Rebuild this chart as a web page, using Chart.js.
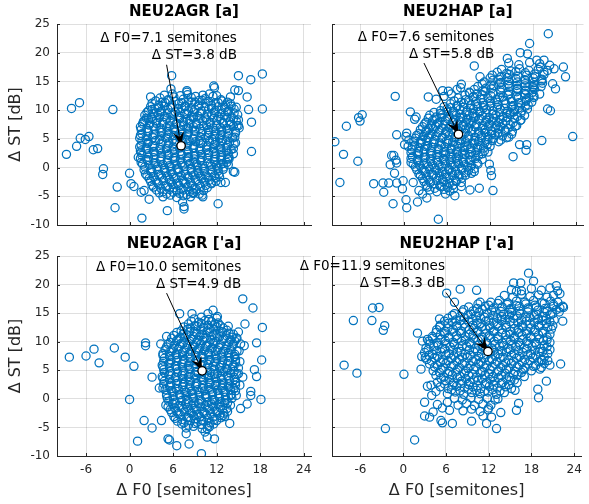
<!DOCTYPE html>
<html>
<head>
<meta charset="utf-8">
<script src="https://cdn.jsdelivr.net/npm/chart.js@4/dist/chart.umd.min.js"></script>
<style>
body { margin: 0; background: #fff; width: 589px; height: 504px; position: relative; overflow: hidden; }
canvas { position: absolute; }
</style>
</head>
<body>
<canvas id="bl" width="320" height="272" style="left:0;top:232px"></canvas>
<canvas id="tl" width="320" height="240" style="left:0;top:0"></canvas>
<canvas id="br" width="299" height="272" style="left:290px;top:232px"></canvas>
<canvas id="tr" width="299" height="240" style="left:290px;top:0"></canvas>
<script>
// axes
const xTicks = [-6, 0, 6, 12, 18, 24];
const yTicks = [-10, -5, 0, 5, 10, 15, 20, 25];

// mean of each panel
const tlMean = {x: 7.1, y: 3.8};
const trMean = {x: 7.6, y: 5.8};
const blMean = {x: 10.0, y: 4.9};
const brMean = {x: 11.9, y: 8.3};

// NEU2AGR [a]  (sparse points, then the dense core in two passes)
const tlOut = [[-8.7,2.3],[-8.0,10.3],[-6.9,11.3],[-7.3,3.7],[-6.8,5.1],[-6.1,4.9],[-5.6,5.4],[-5.0,3.1],[-4.4,3.3],[-3.6,-0.2],[-3.7,-1.2],[-2.3,10.1],[-1.7,-3.4],[-2.0,-7.0],[0.0,-1.0],[0.2,-2.8],[0.6,-3.3],[1.7,-8.8],[1.2,1.8],[1.6,-4.3],[2.0,-4.0],[2.7,-5.5],[2.9,12.3],[3.1,10.1],[2.1,8.2],[2.6,8.5],[5.7,13.7],[5.8,16.0],[5.2,-7.5],[7.5,-7.2],[7.3,-6.0],[7.9,13.1],[8.8,-4.5],[10.1,-5.1],[11.7,13.9],[12.2,-6.3],[13.2,-2.6],[14.5,-0.8],[14.3,2.4],[13.7,1.5],[15.0,7.3],[15.0,16.0],[16.7,15.3],[18.3,16.3],[16.2,12.3],[16.4,10.1],[18.3,10.2],[16.8,7.9],[16.8,2.8],[14.5,13.5],[15.0,13.4],[13.9,12.3],[12.6,0.6],[12.6,-2.6],[10.0,-4.8],[8.7,-4.4],[7.5,-6.8],[11.6,14.2],[7.9,13.4],[14.3,-0.7]];
const tlCore = [
[4.2,12.1],[5.3,11.8],[6.1,12.3],[7.4,11.9],[8.5,12.2],[9.6,11.7],[10.4,12.0],[11.5,12.4],[12.6,11.8],
[3.1,11.2],[4.0,10.8],[4.9,11.3],[5.8,10.9],[6.8,11.1],[7.7,10.7],[8.6,11.4],[9.5,10.9],[10.5,11.2],[11.3,10.8],[12.2,11.3],[13.2,10.9],[13.9,11.1],
[2.6,9.9],[3.5,10.2],[4.4,9.8],[5.3,10.1],[6.3,9.7],[7.2,10.3],[8.1,9.9],[9.0,10.1],[9.9,9.8],[10.9,10.2],[11.8,9.9],[12.7,10.1],[13.6,9.8],[14.4,10.2],
[2.1,9.1],[3.0,8.8],[3.9,9.2],[4.8,8.9],[5.7,9.1],[6.7,8.8],[7.6,9.3],[8.5,8.9],[9.4,9.0],[10.4,8.7],[11.3,9.2],[12.2,8.9],[13.1,9.1],[14.0,8.8],[14.9,9.2],
[1.9,8.0],[2.8,7.8],[3.7,8.2],[4.6,7.9],[5.6,8.1],[6.5,7.7],[7.4,8.0],[8.3,8.3],[9.2,7.8],[10.1,8.1],[11.1,7.9],[12.0,8.2],[12.9,7.8],[13.8,8.0],[14.7,8.1],
[1.5,7.1],[2.4,6.8],[3.3,7.2],[4.2,6.9],[5.1,7.0],[6.0,6.7],[7.0,7.2],[7.9,6.9],[8.8,7.1],[9.7,6.8],[10.6,7.3],[11.5,6.9],[12.5,7.0],[13.4,6.8],[14.3,7.2],[15.1,6.9],
[1.7,5.9],[2.6,6.2],[3.5,5.8],[4.4,6.1],[5.4,5.9],[6.3,6.2],[7.2,5.8],[8.1,6.0],[9.0,6.3],[9.9,5.9],[10.9,6.1],[11.8,5.8],[12.7,6.2],[13.6,5.9],[14.6,6.0],
[1.4,5.1],[2.3,4.8],[3.2,5.2],[4.1,4.9],[5.0,5.1],[5.9,4.8],[6.9,5.2],[7.8,4.9],[8.7,5.0],[9.6,4.7],[10.5,5.2],[11.4,4.9],[12.4,5.1],[13.3,4.8],[14.2,5.2],
[1.6,3.9],[2.5,4.2],[3.4,3.8],[4.3,4.1],[5.3,3.9],[6.2,4.2],[7.1,3.8],[8.0,4.1],[8.9,3.9],[9.8,4.2],[10.8,3.8],[11.7,4.0],[12.6,4.3],[13.5,3.9],[14.4,4.1],
[1.5,2.9],[2.4,3.2],[3.3,2.8],[4.2,3.1],[5.1,2.9],[6.1,3.2],[7.0,2.8],[7.9,3.0],[8.8,3.3],[9.7,2.9],[10.6,3.1],[11.6,2.8],[12.5,3.2],[13.4,2.9],[14.0,3.1],
[1.7,2.1],[2.6,1.8],[3.5,2.2],[4.4,1.9],[5.4,2.1],[6.3,1.8],[7.2,2.2],[8.1,1.9],[9.0,2.0],[10.0,1.7],[10.9,2.2],[11.8,1.9],[12.7,2.1],[13.7,1.8],
[1.6,0.9],[2.5,1.2],[3.4,0.8],[4.3,1.1],[5.2,0.9],[6.2,1.2],[7.1,0.8],[8.0,1.1],[8.9,0.9],[9.8,1.2],[10.8,0.8],[11.7,1.0],[12.6,1.3],[13.4,0.9],
[2.1,0.1],[3.0,-0.2],[3.9,0.2],[4.8,-0.1],[5.7,0.1],[6.7,-0.2],[7.6,0.2],[8.5,-0.1],[9.4,0.1],[10.3,-0.2],[11.3,0.2],[12.2,-0.1],[13.0,0.1],
[2.2,-1.1],[3.1,-0.8],[4.0,-1.2],[5.0,-0.9],[5.9,-1.1],[6.8,-0.8],[7.7,-1.2],[8.6,-0.9],[9.5,-1.0],[10.5,-1.3],[11.4,-0.9],[12.3,-1.1],
[2.7,-1.9],[3.6,-2.2],[4.5,-1.8],[5.5,-2.1],[6.4,-1.9],[7.3,-2.2],[8.2,-1.8],[9.1,-2.1],[10.0,-1.9],[11.0,-2.2],[11.9,-1.8],
[3.1,-3.1],[4.0,-2.8],[5.0,-3.2],[5.9,-2.9],[6.8,-3.1],[7.7,-2.8],[8.6,-3.2],[9.6,-2.9],[10.5,-3.1],[11.3,-2.8],
[3.7,-3.9],[4.6,-4.2],[5.5,-3.8],[6.5,-4.1],[7.4,-3.9],[8.3,-4.2],[9.2,-3.8],[10.2,-4.0],
[4.6,-5.1],[5.6,-4.8],[6.5,-5.2],[7.4,-4.9],[8.4,-5.1]];
const tlCore2 = [
[4.8,12.6],[5.9,12.8],[7.0,12.5],[8.0,12.7],[9.1,12.4],[10.1,12.6],[11.0,12.8],[12.0,12.5],
[3.6,11.6],[4.5,11.4],[5.4,11.7],[6.3,11.5],[7.2,11.3],[8.1,11.6],[9.0,11.4],[10.0,11.7],[10.9,11.5],[11.8,11.3],[12.7,11.6],[13.5,11.4],
[2.9,10.6],[3.9,10.4],[4.8,10.7],[5.7,10.5],[6.7,10.3],[7.6,10.6],[8.5,10.4],[9.5,10.7],[10.4,10.5],[11.3,10.3],[12.2,10.6],[13.1,10.4],[14.0,10.7],[14.7,10.5],
[2.4,9.6],[3.3,9.4],[4.2,9.7],[5.2,9.5],[6.1,9.3],[7.0,9.6],[7.9,9.4],[8.9,9.7],[9.8,9.5],[10.7,9.3],[11.7,9.6],[12.6,9.4],[13.5,9.7],[14.4,9.5],
[2.3,8.6],[3.2,8.4],[4.1,8.7],[5.1,8.5],[6.0,8.3],[6.9,8.6],[7.9,8.4],[8.8,8.7],[9.7,8.5],[10.6,8.3],[11.6,8.6],[12.5,8.4],[13.4,8.7],[14.3,8.5],[15.0,8.3],
[1.8,7.6],[2.7,7.4],[3.7,7.7],[4.6,7.5],[5.5,7.3],[6.4,7.6],[7.4,7.4],[8.3,7.7],[9.2,7.5],[10.2,7.3],[11.1,7.6],[12.0,7.4],[12.9,7.7],[13.9,7.5],[14.8,7.3],
[1.6,6.6],[2.5,6.4],[3.5,6.7],[4.4,6.5],[5.3,6.3],[6.2,6.6],[7.2,6.4],[8.1,6.7],[9.0,6.5],[10.0,6.3],[10.9,6.6],[11.8,6.4],[12.7,6.7],[13.7,6.5],[14.6,6.3],
[1.5,5.6],[2.4,5.4],[3.3,5.7],[4.3,5.5],[5.2,5.3],[6.1,5.6],[7.0,5.4],[8.0,5.7],[8.9,5.5],[9.8,5.3],[10.8,5.6],[11.7,5.4],[12.6,5.7],[13.5,5.5],[14.5,5.3],
[1.7,4.6],[2.6,4.4],[3.6,4.7],[4.5,4.5],[5.4,4.3],[6.4,4.6],[7.3,4.4],[8.2,4.7],[9.1,4.5],[10.1,4.3],[11.0,4.6],[11.9,4.4],[12.8,4.7],[13.8,4.5],[14.6,4.3],
[1.4,3.6],[2.3,3.4],[3.2,3.7],[4.2,3.5],[5.1,3.3],[6.0,3.6],[6.9,3.4],[7.9,3.7],[8.8,3.5],[9.7,3.3],[10.6,3.6],[11.6,3.4],[12.5,3.7],[13.4,3.5],[14.3,3.3],
[1.6,2.6],[2.5,2.4],[3.4,2.7],[4.4,2.5],[5.3,2.3],[6.2,2.6],[7.1,2.4],[8.1,2.7],[9.0,2.5],[9.9,2.3],[10.9,2.6],[11.8,2.4],[12.7,2.7],[13.6,2.5],
[1.5,1.6],[2.4,1.4],[3.3,1.7],[4.3,1.5],[5.2,1.3],[6.1,1.6],[7.0,1.4],[8.0,1.7],[8.9,1.5],[9.8,1.3],[10.7,1.6],[11.7,1.4],[12.6,1.7],[13.5,1.5],
[1.8,0.6],[2.7,0.4],[3.6,0.7],[4.6,0.5],[5.5,0.3],[6.4,0.6],[7.3,0.4],[8.3,0.7],[9.2,0.5],[10.1,0.3],[11.1,0.6],[12.0,0.4],[12.9,0.7],[13.6,0.5],
[2.0,-0.4],[2.9,-0.6],[3.8,-0.3],[4.8,-0.5],[5.7,-0.7],[6.6,-0.4],[7.5,-0.6],[8.5,-0.3],[9.4,-0.5],[10.3,-0.7],[11.2,-0.4],[12.2,-0.6],[12.9,-0.3],
[2.4,-1.4],[3.3,-1.6],[4.3,-1.3],[5.2,-1.5],[6.1,-1.7],[7.1,-1.4],[8.0,-1.6],[8.9,-1.3],[9.8,-1.5],[10.8,-1.7],[11.7,-1.4],[12.4,-1.6],
[2.9,-2.4],[3.8,-2.6],[4.7,-2.3],[5.7,-2.5],[6.6,-2.7],[7.5,-2.4],[8.4,-2.6],[9.4,-2.3],[10.3,-2.5],[11.2,-2.7],[11.9,-2.4],
[3.3,-3.4],[4.3,-3.6],[5.2,-3.3],[6.1,-3.5],[7.1,-3.7],[8.0,-3.4],[8.9,-3.6],[9.8,-3.3],[10.7,-3.5],
[4.1,-4.4],[5.1,-4.6],[6.0,-4.3],[6.9,-4.5],[7.9,-4.7],[8.8,-4.4],[9.6,-4.6]];

// NEU2HAP [a]
const trOut = [[-9.6,4.5],[-8.9,-2.6],[-8.4,2.3],[-8.0,7.2],[-6.4,1.1],[-6.1,8.1],[-6.3,8.7],[-5.8,9.2],[-4.2,-2.8],[-2.9,-2.7],[-2.8,-4.3],[-2.1,-2.7],[-1.5,-6.3],[-1.2,12.4],[-1.0,-2.7],[-1.7,2.1],[-1.4,2.1],[-1.1,1.3],[-1.9,0.5],[-1.0,0.8],[-1.3,-1.0],[-1.0,5.7],[-0.1,-2.3],[-0.2,-3.7],[0.3,-5.6],[0.4,-7.0],[0.1,4.0],[0.3,5.4],[0.6,3.7],[0.9,9.7],[1.7,8.8],[1.3,-2.6],[1.9,-6.0],[2.1,-4.0],[4.8,-9.0],[5.4,13.4],[3.4,12.3],[5.8,-4.6],[7.1,-4.9],[8.0,-3.3],[9.2,-3.9],[10.5,-3.6],[12.4,-4.0],[12.1,-0.5],[12.2,-1.4],[11.9,0.6],[9.8,17.7],[8.0,14.5],[7.9,13.9],[9.2,13.0],[10.6,15.8],[14.4,19.0],[16.2,20.0],[17.2,19.8],[17.5,21.6],[20.1,23.3],[18.5,18.7],[19.5,18.7],[19.0,17.5],[20.3,17.8],[20.9,17.2],[22.2,17.5],[22.5,15.8],[20.7,14.6],[21.1,13.7],[20.4,9.9],[20.0,10.2],[23.5,5.4],[19.2,4.7],[17.0,3.0],[17.1,4.0],[16.1,4.0],[15.2,1.9],[14.8,9.5],[15.8,13.7],[16.9,13.5],[18.0,14.1],[17.4,12.2],[0.4,6.0],[0.7,4.8],[1.5,8.4],[2.6,-4.6],[3.2,-5.3]];
const trCore = [
[6.2,13.3],[7.4,13.6],[4.5,11.9],[5.6,12.4],[6.6,12.8],
[6.5,11.1],[7.4,10.8],[8.3,11.2],[9.3,10.9],[10.2,11.1],[11.1,10.8],[12.1,11.2],[13.1,10.9],[14.2,11.1],[15.2,10.8],[16.3,11.2],[17.3,10.9],
[5.1,9.9],[6.0,10.2],[6.9,9.8],[7.8,10.1],[8.8,9.9],[9.7,10.2],[10.6,9.8],[11.5,10.1],[12.4,9.9],[13.4,10.2],[14.4,9.8],[15.4,10.1],[16.4,9.9],[17.2,10.2],
[3.6,9.1],[4.5,8.8],[5.4,9.2],[6.3,8.9],[7.3,9.1],[8.2,8.8],[9.1,9.2],[10.0,8.9],[10.9,9.0],[11.9,8.7],[12.8,9.1],[13.8,8.8],[14.8,9.2],[15.8,8.9],[16.8,9.1],
[3.1,7.9],[4.0,8.2],[4.9,7.8],[5.8,8.1],[6.8,7.9],[7.7,8.2],[8.6,7.8],[9.5,8.0],[10.4,8.3],[11.4,7.9],[12.3,8.1],[13.2,7.8],[14.2,8.1],[15.2,7.8],[16.2,8.2],
[2.6,7.1],[3.5,6.8],[4.4,7.2],[5.3,6.9],[6.3,7.0],[7.2,6.7],[8.1,7.2],[9.0,6.9],[9.9,7.1],[10.9,6.8],[11.8,7.2],[12.7,6.9],[13.5,7.1],[14.5,6.8],[15.5,7.2],
[2.1,5.9],[3.0,6.2],[3.9,5.8],[4.8,6.1],[5.8,5.9],[6.7,6.2],[7.6,5.8],[8.5,6.0],[9.4,6.3],[10.4,5.9],[11.3,6.1],[12.2,5.8],[13.1,6.0],[14.1,6.2],[15.0,5.8],
[1.6,5.1],[2.5,4.8],[3.4,5.2],[4.3,4.9],[5.3,5.1],[6.2,4.8],[7.1,5.2],[8.0,4.9],[8.9,5.0],[9.9,4.7],[10.8,5.2],[11.7,4.9],[12.5,5.1],[13.5,4.8],[14.3,5.2],
[1.5,3.9],[2.4,4.2],[3.3,3.8],[4.2,4.1],[5.2,3.9],[6.1,4.2],[7.0,3.8],[7.9,4.1],[8.8,3.9],[9.8,4.2],[10.7,3.8],[11.6,4.0],
[1.1,3.1],[2.0,2.8],[2.9,3.2],[3.8,2.9],[4.8,3.1],[5.7,2.8],[6.6,3.2],[7.5,2.9],[8.4,3.0],[9.4,2.7],[10.3,3.2],[11.2,2.9],
[1.2,1.9],[2.1,2.2],[3.0,1.8],[3.9,2.1],[4.9,1.9],[5.8,2.2],[6.7,1.8],[7.6,2.0],[8.5,2.3],[9.5,1.9],[10.4,2.1],
[1.0,0.9],[1.9,1.2],[2.8,0.8],[3.7,1.1],[4.7,0.9],[5.6,1.2],[6.5,0.8],[7.4,1.1],[8.3,0.9],[9.3,1.2],[10.2,0.8],
[1.6,0.1],[2.5,-0.2],[3.4,0.2],[4.3,-0.1],[5.3,0.1],[6.2,-0.2],[7.1,0.2],[8.0,-0.1],[8.9,0.1],[9.8,-0.2],
[2.1,-1.1],[3.0,-0.8],[3.9,-1.2],[4.9,-0.9],[5.8,-1.1],[6.7,-0.8],[7.6,-1.2],[8.5,-0.9],[9.4,-1.0],
[2.6,-1.9],[3.5,-2.2],[4.5,-1.8],[5.4,-2.1],[6.3,-1.9],[7.2,-2.2],[8.1,-1.8],
[3.1,-3.1],[4.1,-2.8],[5.0,-3.2],[5.9,-2.9],[6.8,-3.1],
[3.6,-3.9],[4.6,-4.2],[5.6,-3.8],[6.4,-4.1],
[7.6,12.1],[8.6,11.8],[9.6,12.2],[10.7,11.9],[11.7,12.1],[12.8,11.8],[13.8,12.3],[14.9,11.9],[15.9,12.1],[17.0,11.8],[18.1,12.2],
[9.1,13.1],[10.2,12.8],[11.3,13.2],[12.4,12.9],[13.5,13.1],[14.6,12.8],[15.7,13.2],[16.8,12.9],[17.9,13.1],[18.9,12.8],
[10.3,14.1],[11.4,13.8],[12.5,14.2],[13.6,13.9],[14.7,14.1],[15.8,13.8],[16.9,14.2],[18.0,13.9],[19.1,14.1],
[11.2,14.9],[12.4,15.2],[13.5,14.8],[14.6,15.1],[15.8,14.9],[16.9,15.2],[18.1,14.8],[19.2,15.1],
[12.3,16.1],[13.5,15.8],[14.7,16.2],[15.9,15.9],[17.1,16.1],[18.3,15.8],[19.5,16.2],
[13.6,17.1],[14.9,16.8],[16.1,17.2],[17.4,16.9],[18.7,17.1],[20.0,16.9],
[14.6,18.2],[16.0,17.9],[17.5,18.3],[18.9,18.1]];
const trCore2 = [
[7.0,11.6],[8.0,11.4],[9.0,11.7],[10.0,11.5],[11.0,11.3],[12.0,11.6],[13.0,11.4],[14.0,11.7],[15.0,11.5],[16.0,11.3],[17.0,11.6],[17.8,11.4],
[8.5,12.6],[9.7,12.4],[10.9,12.7],[12.1,12.5],[13.3,12.3],[14.5,12.6],[15.7,12.4],[16.9,12.7],[18.1,12.5],
[9.8,13.6],[11.0,13.4],[12.2,13.7],[13.4,13.5],[14.6,13.3],[15.8,13.6],[17.0,13.4],[18.2,13.7],
[10.9,14.6],[12.1,14.4],[13.3,14.7],[14.5,14.5],[15.7,14.3],[16.9,14.6],[18.1,14.4],[19.3,14.7],
[12.0,15.6],[13.2,15.4],[14.4,15.7],[15.6,15.5],[16.8,15.3],[18.0,15.6],[19.2,15.4],
[13.0,16.6],[14.3,16.4],[15.6,16.7],[16.9,16.5],[18.2,16.3],[19.5,16.6],
[5.6,10.6],[6.5,10.4],[7.4,10.7],[8.3,10.5],[9.3,10.3],[10.2,10.6],[11.1,10.4],[12.0,10.7],[13.0,10.5],[14.0,10.3],[15.0,10.6],[16.0,10.4],[16.9,10.7],
[4.2,9.6],[5.1,9.4],[6.0,9.7],[6.9,9.5],[7.8,9.3],[8.7,9.6],[9.6,9.4],[10.5,9.7],[11.4,9.5],[12.4,9.3],[13.3,9.6],[14.3,9.4],[15.3,9.7],[16.3,9.5],
[3.4,8.6],[4.3,8.4],[5.2,8.7],[6.1,8.5],[7.0,8.3],[7.9,8.6],[8.8,8.4],[9.7,8.7],[10.6,8.5],[11.5,8.3],[12.5,8.6],[13.4,8.4],[14.4,8.7],[15.4,8.5],[16.3,8.3],
[2.9,7.6],[3.8,7.4],[4.7,7.7],[5.6,7.5],[6.5,7.3],[7.4,7.6],[8.3,7.4],[9.2,7.7],[10.1,7.5],[11.0,7.3],[11.9,7.6],[12.9,7.4],[13.8,7.7],[14.8,7.5],[15.7,7.3],
[2.3,6.6],[3.2,6.4],[4.1,6.7],[5.0,6.5],[5.9,6.3],[6.8,6.6],[7.7,6.4],[8.6,6.7],[9.5,6.5],[10.4,6.3],[11.3,6.6],[12.2,6.4],[13.2,6.7],[14.1,6.5],[15.1,6.3],
[1.8,5.6],[2.7,5.4],[3.6,5.7],[4.5,5.5],[5.4,5.3],[6.3,5.6],[7.2,5.4],[8.1,5.7],[9.0,5.5],[9.9,5.3],[10.8,5.6],[11.7,5.4],[12.7,5.7],[13.7,5.5],[14.6,5.3],
[1.4,4.6],[2.3,4.4],[3.2,4.7],[4.1,4.5],[5.0,4.3],[5.9,4.6],[6.8,4.4],[7.7,4.7],[8.6,4.5],[9.5,4.3],[10.4,4.6],[11.3,4.4],[12.3,4.7],[13.2,4.5],
[1.2,3.6],[2.1,3.4],[3.0,3.7],[3.9,3.5],[4.8,3.3],[5.7,3.6],[6.6,3.4],[7.5,3.7],[8.4,3.5],[9.3,3.3],[10.2,3.6],[11.1,3.4],[12.0,3.7],
[1.0,2.6],[1.9,2.4],[2.8,2.7],[3.7,2.5],[4.6,2.3],[5.5,2.6],[6.4,2.4],[7.3,2.7],[8.2,2.5],[9.1,2.3],[10.0,2.6],[10.9,2.4],[11.7,2.7],
[1.0,1.6],[1.9,1.4],[2.8,1.7],[3.7,1.5],[4.6,1.3],[5.5,1.6],[6.4,1.4],[7.3,1.7],[8.2,1.5],[9.1,1.3],[10.0,1.6],[10.9,1.4],
[1.3,0.6],[2.2,0.4],[3.1,0.7],[4.0,0.5],[4.9,0.3],[5.8,0.6],[6.7,0.4],[7.6,0.7],[8.5,0.5],[9.4,0.3],[10.3,0.6],
[1.8,-0.4],[2.7,-0.6],[3.6,-0.3],[4.5,-0.5],[5.4,-0.7],[6.3,-0.4],[7.2,-0.6],[8.1,-0.3],[9.0,-0.5],[9.8,-0.7],
[2.3,-1.4],[3.2,-1.6],[4.1,-1.3],[5.0,-1.5],[5.9,-1.7],[6.8,-1.4],[7.7,-1.6],[8.6,-1.3],
[2.8,-2.4],[3.7,-2.6],[4.6,-2.3],[5.5,-2.5],[6.4,-2.7],[7.3,-2.4],[8.0,-2.6],
[3.3,-3.4],[4.3,-3.6],[5.2,-3.3],[6.1,-3.5],[6.9,-3.7]];

// NEU2AGR ['a]
const blOut = [[-8.3,7.3],[-6.0,7.5],[-4.9,8.7],[-4.2,6.3],[-2.1,8.9],[-0.6,7.3],[0.6,5.7],[0.0,-0.1],[1.1,-7.4],[2.0,-3.8],[2.2,9.8],[2.2,9.3],[3.1,-5.1],[3.1,3.8],[4.3,9.6],[4.4,-3.8],[5.1,10.9],[5.5,-7.2],[6.5,-8.2],[6.9,14.9],[8.6,14.9],[8.2,-7.9],[9.9,-9.6],[10.7,-6.7],[11.7,-7.0],[10.8,14.9],[11.5,15.5],[12.1,14.4],[15.6,17.5],[17.0,15.9],[15.9,13.1],[18.3,12.5],[15.0,11.7],[17.5,9.8],[18.2,6.8],[17.2,5.1],[17.5,3.9],[15.6,3.8],[16.7,1.3],[16.7,0.6],[18.1,-0.1],[16.2,-0.9],[15.3,-1.7],[14.7,0.6],[13.8,-4.3],[12.9,-2.9],[15.8,9.3],[15.3,9.6],[10.4,-5.8],[10.7,-5.2],[7.8,-6.1],[5.3,-7.0],[4.1,1.9]];
const blCore = [
[8.9,14.0],[9.9,14.3],[10.9,13.9],[12.0,14.1],
[8.1,13.1],[9.0,12.8],[9.9,13.2],[10.8,12.9],[11.7,13.1],[12.5,12.8],
[7.1,11.9],[8.0,12.2],[8.9,11.8],[9.8,12.1],[10.7,11.9],[11.6,12.2],[12.5,11.8],[13.4,12.0],
[6.1,11.1],[7.0,10.8],[7.9,11.2],[8.8,10.9],[9.7,11.0],[10.6,10.7],[11.5,11.2],[12.4,10.9],[13.3,11.1],[14.1,10.8],
[5.6,9.9],[6.5,10.2],[7.4,9.8],[8.3,10.1],[9.2,9.9],[10.1,10.2],[11.0,9.8],[11.9,10.0],[12.8,10.3],[13.7,9.9],[14.5,10.1],[14.8,10.6],
[5.1,9.1],[6.0,8.8],[6.9,9.2],[7.8,8.9],[8.7,9.1],[9.6,8.8],[10.5,9.2],[11.4,8.9],[12.3,9.0],[13.2,8.7],[14.1,9.2],
[4.6,7.9],[5.5,8.2],[6.4,7.8],[7.3,8.1],[8.2,7.9],[9.1,8.2],[10.0,7.8],[10.9,8.0],[11.8,8.3],[12.7,7.9],[13.6,8.1],[14.5,7.8],[15.1,8.4],
[4.8,7.1],[5.7,6.8],[6.6,7.2],[7.5,6.9],[8.4,7.0],[9.3,6.7],[10.2,7.2],[11.1,6.9],[12.0,7.1],[12.9,6.8],[13.8,7.2],[14.6,6.9],
[4.5,5.9],[5.4,6.2],[6.3,5.8],[7.2,6.1],[8.1,5.9],[9.0,6.2],[9.9,5.8],[10.8,6.0],[11.7,6.3],[12.6,5.9],[13.5,6.1],[14.4,5.8],[15.2,6.5],
[4.7,5.1],[5.6,4.8],[6.5,5.2],[7.4,4.9],[8.3,5.1],[9.2,4.8],[10.8,4.9],[11.7,5.2],[12.6,4.9],[13.5,5.1],[14.4,4.8],
[4.5,3.9],[5.4,4.2],[6.3,3.8],[7.2,4.1],[8.1,3.9],[9.0,4.2],[9.9,3.8],[10.8,4.0],[11.7,4.3],[12.6,3.9],[13.5,4.1],[14.4,3.8],[15.0,4.4],
[4.8,3.1],[5.7,2.8],[6.6,3.2],[7.5,2.9],[8.4,3.0],[9.3,2.7],[10.2,3.2],[11.1,2.9],[12.0,3.1],[12.9,2.8],[13.8,3.2],[14.6,2.9],
[4.6,1.9],[5.5,2.2],[6.4,1.8],[7.3,2.1],[8.2,1.9],[9.1,2.2],[10.0,1.8],[10.9,2.0],[11.8,2.3],[12.7,1.9],[13.6,2.1],[14.4,1.8],[15.2,2.4],
[5.1,0.9],[6.0,1.2],[6.9,0.8],[7.8,1.1],[8.7,0.9],[9.6,1.2],[10.5,0.8],[11.4,1.1],[12.3,0.9],[13.2,1.2],[14.0,0.8],
[5.2,0.1],[6.1,-0.2],[7.0,0.2],[7.9,-0.1],[8.8,0.1],[9.7,-0.2],[10.6,0.2],[11.5,-0.1],[12.4,0.1],[13.3,-0.2],[14.1,0.1],
[5.0,-1.1],[5.9,-0.8],[6.8,-1.2],[7.7,-0.9],[8.6,-1.1],[9.5,-0.8],[10.4,-1.2],[11.3,-0.9],[12.2,-1.0],[13.1,-0.7],[13.9,-1.1],
[5.6,-1.9],[6.5,-2.2],[7.4,-1.8],[8.3,-2.1],[9.2,-1.9],[10.1,-2.2],[11.0,-1.8],[11.9,-2.1],[12.8,-1.9],[13.5,-2.2],
[6.1,-3.1],[7.0,-2.8],[7.9,-3.2],[8.8,-2.9],[9.7,-3.1],[10.6,-2.8],[11.5,-3.2],[12.4,-2.9],[13.1,-3.1],
[6.6,-3.9],[7.5,-4.2],[8.4,-3.8],[9.3,-4.1],[10.2,-3.9],[11.1,-4.2],[12.0,-3.8],
[7.8,-5.1],[8.8,-4.8],[10.0,-5.2],[11.0,-4.9]];
const blCore2 = [
[8.5,13.6],[9.5,13.4],[10.4,13.7],[11.3,13.5],[12.2,13.3],
[7.5,12.6],[8.4,12.4],[9.3,12.7],[10.2,12.5],[11.1,12.3],[12.0,12.6],[12.9,12.4],[13.6,12.7],
[6.5,11.6],[7.4,11.4],[8.3,11.7],[9.2,11.5],[10.1,11.3],[11.0,11.6],[11.9,11.4],[12.8,11.7],[13.7,11.5],[14.3,11.3],
[5.8,10.6],[6.7,10.4],[7.6,10.7],[8.5,10.5],[9.4,10.3],[10.3,10.6],[11.2,10.4],[12.1,10.7],[13.0,10.5],[13.9,10.3],[14.7,10.6],
[5.3,9.6],[6.2,9.4],[7.1,9.7],[8.0,9.5],[8.9,9.3],[9.8,9.6],[10.7,9.4],[11.6,9.7],[12.5,9.5],[13.4,9.3],[14.3,9.6],
[4.9,8.6],[5.8,8.4],[6.7,8.7],[7.6,8.5],[8.5,8.3],[9.4,8.6],[10.3,8.4],[11.2,8.7],[12.1,8.5],[13.0,8.3],[13.9,8.6],[14.8,8.4],
[4.6,7.6],[5.5,7.4],[6.4,7.7],[7.3,7.5],[8.2,7.3],[9.1,7.6],[10.0,7.4],[10.9,7.7],[11.8,7.5],[12.7,7.3],[13.6,7.6],[14.5,7.4],
[4.7,6.6],[5.6,6.4],[6.5,6.7],[7.4,6.5],[8.3,6.3],[9.2,6.6],[10.1,6.4],[11.0,6.7],[11.9,6.5],[12.8,6.3],[13.7,6.6],[14.6,6.4],
[4.6,5.6],[5.5,5.4],[6.4,5.7],[7.3,5.5],[8.2,5.3],[9.1,5.6],[10.6,5.4],[11.5,5.7],[12.4,5.5],[13.3,5.3],[14.2,5.6],[15.0,5.4],
[4.8,4.6],[5.7,4.4],[6.6,4.7],[7.5,4.5],[8.4,4.3],[9.3,4.6],[10.3,4.2],[11.2,4.6],[12.1,4.4],[13.0,4.7],[13.9,4.5],[14.8,4.3],
[4.6,3.6],[5.5,3.4],[6.4,3.7],[7.3,3.5],[8.2,3.3],[9.1,3.6],[10.0,3.4],[10.9,3.7],[11.8,3.5],[12.7,3.3],[13.6,3.6],[14.5,3.4],
[4.7,2.6],[5.6,2.4],[6.5,2.7],[7.4,2.5],[8.3,2.3],[9.2,2.6],[10.1,2.4],[11.0,2.7],[11.9,2.5],[12.8,2.3],[13.7,2.6],[14.6,2.4],
[4.9,1.6],[5.8,1.4],[6.7,1.7],[7.6,1.5],[8.5,1.3],[9.4,1.6],[10.3,1.4],[11.2,1.7],[12.1,1.5],[13.0,1.3],[13.9,1.6],[14.6,1.4],
[5.1,0.6],[6.0,0.4],[6.9,0.7],[7.8,0.5],[8.7,0.3],[9.6,0.6],[10.5,0.4],[11.4,0.7],[12.3,0.5],[13.2,0.3],[14.0,0.6],
[5.4,-0.4],[6.3,-0.6],[7.2,-0.3],[8.1,-0.5],[9.0,-0.7],[9.9,-0.4],[10.8,-0.6],[11.7,-0.3],[12.6,-0.5],[13.5,-0.7],
[5.3,-1.4],[6.2,-1.6],[7.1,-1.3],[8.0,-1.5],[8.9,-1.7],[9.8,-1.4],[10.7,-1.6],[11.6,-1.3],[12.5,-1.5],[13.4,-1.7],
[5.8,-2.4],[6.7,-2.6],[7.6,-2.3],[8.5,-2.5],[9.4,-2.7],[10.3,-2.4],[11.2,-2.6],[12.1,-2.3],[13.0,-2.5],
[6.3,-3.4],[7.2,-3.6],[8.1,-3.3],[9.0,-3.5],[9.9,-3.7],[10.8,-3.4],[11.7,-3.6],[12.6,-3.3],
[7.2,-4.4],[8.1,-4.6],[9.0,-4.3],[9.9,-4.5],[10.8,-4.7],[11.6,-4.4]];

// NEU2HAP ['a]
const brOut = [[-8.3,5.9],[-6.5,4.5],[-7.0,13.7],[-4.3,15.9],[-3.4,16.0],[-4.4,13.7],[-2.6,12.8],[-2.8,12.0],[-2.5,-5.2],[0.1,4.3],[1.6,-7.2],[2.0,11.5],[2.7,10.1],[3.4,10.4],[2.6,7.4],[2.5,5.2],[3.1,7.2],[3.0,-0.6],[3.4,2.2],[3.9,2.4],[3.0,-3.0],[3.7,-3.2],[4.2,-2.3],[5.3,-3.8],[5.5,-4.2],[6.9,-4.3],[6.2,-0.6],[5.1,14.0],[6.1,18.5],[7.2,16.9],[8.0,19.2],[10.3,19.0],[10.8,16.9],[9.6,-3.9],[11.7,-4.3],[13.1,-5.2],[12.4,-3.2],[13.7,-2.4],[13.3,0.0],[15.9,-2.0],[16.2,-0.8],[15.7,1.5],[18.9,1.7],[19.0,0.2],[20.1,3.1],[22.1,6.1],[22.4,13.6],[22.5,16.0],[17.6,22.0],[15.5,20.3],[16.5,20.3],[15.9,18.8],[21.5,19.8],[21.7,18.9],[22.0,18.4],[19.5,6.7],[20.3,6.7],[18.3,20.6],[22.4,16.2],[4.0,0.6],[4.8,-1.0],[5.5,-1.6],[6.5,-2.0],[4.6,1.3],[11.2,-3.0],[12.0,-1.6]];
const brCore = [
[15.2,19.1],[16.6,18.9],[18.0,19.3],[19.4,19.0],[20.6,19.4],
[14.2,18.1],[15.4,17.8],[16.6,18.3],[17.8,17.9],[19.0,18.2],[20.2,17.8],[21.1,18.1],
[12.3,16.9],[13.5,17.2],[14.7,16.8],[15.9,17.1],[17.1,16.9],[18.3,17.2],[19.5,16.8],[20.7,17.1],[21.7,16.9],
[9.2,16.1],[10.4,15.8],[11.5,16.2],[12.7,15.9],[13.9,16.1],[15.1,15.8],[16.3,16.2],[17.5,15.9],[18.7,16.1],[19.9,15.8],[21.1,16.2],[22.0,15.9],
[7.2,14.9],[8.3,15.2],[9.5,14.8],[10.6,15.1],[11.8,14.9],[12.9,15.2],[14.1,14.8],[15.2,15.1],[16.4,14.9],[17.5,15.2],[18.7,14.8],[19.8,15.1],[21.0,14.9],[21.9,15.2],
[6.3,14.1],[7.4,13.8],[8.6,14.2],[9.7,13.9],[10.9,14.1],[12.0,13.8],[13.2,14.2],[14.3,13.9],[15.5,14.1],[16.6,13.8],[17.8,14.2],[18.9,13.9],[20.1,14.1],[21.2,13.8],
[5.2,12.9],[6.3,13.2],[7.5,12.8],[8.6,13.1],[9.8,12.9],[10.9,13.2],[12.1,12.8],[13.2,13.1],[14.4,12.9],[15.5,13.2],[16.7,12.8],[17.8,13.1],[19.0,12.9],[20.1,13.2],[21.0,12.8],
[4.7,12.1],[5.8,11.8],[7.0,12.2],[8.1,11.9],[9.3,12.1],[10.4,11.8],[11.6,12.2],[12.7,11.9],[13.9,12.1],[15.0,11.8],[16.2,12.2],[17.3,11.9],[18.5,12.1],[19.6,11.8],[20.8,12.2],
[4.1,10.9],[5.2,11.2],[6.4,10.8],[7.5,11.1],[8.7,10.9],[9.8,11.2],[11.0,10.8],[12.1,11.1],[13.3,10.9],[14.4,11.2],[15.6,10.8],[16.7,11.1],[17.9,10.9],[19.0,11.2],[20.2,10.8],
[3.6,10.1],[4.7,9.8],[5.9,10.2],[7.0,9.9],[8.2,10.1],[9.3,9.8],[10.5,10.2],[11.6,9.9],[12.8,10.1],[13.9,9.8],[15.1,10.2],[16.2,9.9],[17.4,10.1],[18.5,9.8],[19.7,10.2],[20.6,9.9],
[3.2,8.9],[4.3,9.2],[5.5,8.8],[6.6,9.1],[7.8,8.9],[8.9,9.2],[10.1,8.8],[11.2,9.1],[12.4,8.9],[13.5,9.2],[14.7,8.8],[15.8,9.1],[17.0,8.9],[18.1,9.2],[19.3,8.8],[20.2,9.1],
[3.0,8.1],[4.1,7.8],[5.3,8.2],[6.4,7.9],[7.6,8.1],[8.7,7.8],[9.9,8.2],[11.0,7.9],[12.2,8.1],[13.3,7.8],[14.5,8.2],[15.6,7.9],[16.8,8.1],[17.9,7.8],[19.1,8.2],[20.3,7.9],
[3.3,6.9],[4.4,7.2],[5.6,6.8],[6.7,7.1],[7.9,6.9],[9.0,7.2],[10.2,6.8],[11.3,7.1],[12.5,6.9],[13.6,7.2],[14.8,6.8],[15.9,7.1],[17.1,6.9],[18.2,7.2],[19.4,6.8],
[3.7,6.1],[4.8,5.8],[6.0,6.2],[7.1,5.9],[8.3,6.1],[9.4,5.8],[10.6,6.2],[11.7,5.9],[12.9,6.1],[14.0,5.8],[15.2,6.2],[16.3,5.9],[17.5,6.1],[18.6,5.8],[19.8,6.2],[20.6,5.9],
[4.2,4.9],[5.3,5.2],[6.5,4.8],[7.6,5.1],[8.8,4.9],[9.9,5.2],[11.1,4.8],[12.2,5.1],[13.4,4.9],[14.5,5.2],[15.7,4.8],[16.8,5.1],[18.0,4.9],[19.2,5.2],
[4.6,4.1],[5.7,3.8],[6.9,4.2],[8.0,3.9],[9.2,4.1],[10.3,3.8],[11.5,4.2],[12.6,3.9],[13.8,4.1],[14.9,3.8],[16.1,4.2],[17.0,3.9],
[4.8,2.9],[5.9,3.2],[7.1,2.8],[8.2,3.1],[9.4,2.9],[10.5,3.2],[11.7,2.8],[12.8,3.1],[14.0,2.9],[15.1,3.2],[16.0,2.8],
[5.2,2.1],[6.3,1.8],[7.5,2.2],[8.6,1.9],[9.8,2.1],[10.9,1.8],[12.1,2.2],[13.2,1.9],[14.4,2.1],[15.2,1.8],
[6.2,0.9],[7.3,1.2],[8.5,0.8],[9.6,1.1],[10.8,0.9],[11.9,1.2],[13.1,0.8],[14.2,1.1],
[7.2,0.1],[8.3,-0.2],[9.5,0.2],[10.6,-0.1],[11.8,0.1],[12.9,-0.2],
[7.7,-1.1],[8.9,-0.8],[10.0,-1.2],[11.2,-0.9],[12.3,-1.1],
[8.4,-2.1],[9.6,-1.8],[10.8,-2.2],[11.9,-1.9]];
const brCore2 = [
[10.5,16.6],[12.0,16.4],[13.3,16.7],[14.6,16.5],[15.9,16.3],[17.2,16.6],[18.5,16.4],[19.8,16.7],[21.1,16.5],
[8.5,15.6],[9.8,15.4],[11.1,15.7],[12.4,15.5],[13.7,15.3],[15.0,15.6],[16.3,15.4],[17.6,15.7],[18.9,15.5],[20.2,15.3],[21.5,15.6],
[6.9,14.6],[8.0,14.4],[9.1,14.7],[10.2,14.5],[11.4,14.3],[12.6,14.6],[13.8,14.4],[14.9,14.7],[16.0,14.5],[17.2,14.3],[18.4,14.6],[19.6,14.4],[20.7,14.7],
[5.8,13.6],[6.9,13.4],[8.0,13.7],[9.2,13.5],[10.4,13.3],[11.6,13.6],[12.7,13.4],[13.8,13.7],[15.0,13.5],[16.1,13.3],[17.3,13.6],[18.4,13.4],[19.6,13.7],[20.6,13.5],
[5.1,12.6],[6.3,12.4],[7.5,12.7],[8.7,12.5],[9.9,12.3],[11.0,12.6],[12.2,12.4],[13.3,12.7],[14.5,12.5],[15.6,12.3],[16.8,12.6],[17.9,12.4],[19.1,12.7],[20.3,12.5],
[4.6,11.6],[5.8,11.4],[7.0,11.7],[8.1,11.5],[9.3,11.3],[10.4,11.6],[11.6,11.4],[12.7,11.7],[13.9,11.5],[15.0,11.3],[16.2,11.6],[17.3,11.4],[18.5,11.7],[19.6,11.5],[20.6,11.3],
[4.1,10.6],[5.3,10.4],[6.4,10.7],[7.6,10.5],[8.7,10.3],[9.9,10.6],[11.0,10.4],[12.2,10.7],[13.3,10.5],[14.5,10.3],[15.6,10.6],[16.8,10.4],[17.9,10.7],[19.1,10.5],[20.2,10.3],
[3.7,9.6],[4.9,9.4],[6.0,9.7],[7.2,9.5],[8.3,9.3],[9.5,9.6],[10.6,9.4],[11.8,9.7],[12.9,9.5],[14.1,9.3],[15.2,9.6],[16.4,9.4],[17.5,9.7],[18.7,9.5],[19.8,9.3],
[3.5,8.6],[4.7,8.4],[5.8,8.7],[7.0,8.5],[8.1,8.3],[9.3,8.6],[10.4,8.4],[11.6,8.7],[12.7,8.5],[13.9,8.3],[15.0,8.6],[16.2,8.4],[17.3,8.7],[18.5,8.5],[19.6,8.3],[20.6,8.6],
[3.6,7.6],[4.8,7.4],[6.0,7.7],[7.1,7.5],[8.3,7.3],[9.4,7.6],[10.6,7.4],[11.7,7.7],[12.9,7.5],[14.0,7.3],[15.2,7.6],[16.3,7.4],[17.5,7.7],[18.6,7.5],[19.8,7.3],
[4.0,6.6],[5.2,6.4],[6.3,6.7],[7.5,6.5],[8.6,6.3],[9.8,6.6],[10.9,6.4],[12.1,6.7],[13.2,6.5],[14.4,6.3],[15.5,6.6],[16.7,6.4],[17.8,6.7],[19.0,6.5],
[4.4,5.6],[5.6,5.4],[6.8,5.7],[7.9,5.5],[9.1,5.3],[10.2,5.6],[11.4,5.4],[12.5,5.7],[13.7,5.5],[14.8,5.3],[16.0,5.6],[17.1,5.4],[18.3,5.7],[19.4,5.5],
[5.1,4.6],[6.3,4.4],[7.4,4.7],[8.6,4.5],[9.7,4.3],[10.9,4.6],[12.0,4.4],[13.2,4.7],[14.3,4.5],[15.5,4.3],[16.6,4.6],
[5.3,3.6],[6.5,3.4],[7.6,3.7],[8.8,3.5],[9.9,3.3],[11.1,3.6],[12.2,3.4],[13.4,3.7],[14.5,3.5],[15.6,3.3],
[5.8,2.6],[6.9,2.4],[8.1,2.7],[9.2,2.5],[10.4,2.3],[11.5,2.6],[12.7,2.4],[13.8,2.7],[14.8,2.5],
[6.8,1.6],[8.0,1.4],[9.1,1.7],[10.3,1.5],[11.4,1.3],[12.6,1.6],[13.6,1.4]];

// where the arrow starts, and how its label sits on that point
const notes = {
  tl: {tail: [5.1, 17.9], align: 'center'},
  tr: {tail: [2.8, 18.2], align: 'center'},
  bl: {tail: [5.1, 18.5], align: 'center'},
  br: {tail: [6.0, 18.6], align: 'right'}
};

const blue = '#0072BD';
const axisColor = '#262626';
const gridColor = 'rgba(38,38,38,0.15)';
Chart.defaults.font.family = '"DejaVu Sans", sans-serif';

const notePlugin = {
  id: 'note',
  afterDatasetDraw(chart, args, o) {
    if (args.index !== 1 || !o.tail) return;
    const {ctx, scales: {x, y}} = chart;
    const tx = x.getPixelForValue(o.tail[0]), ty = y.getPixelForValue(o.tail[1]);
    const hx = x.getPixelForValue(o.head.x), hy = y.getPixelForValue(o.head.y);
    const a = Math.atan2(hy - ty, hx - tx);
    const c = Math.cos(a), s = Math.sin(a);
    const L = 14, W = 5.5, N = 9;
    ctx.save();
    ctx.strokeStyle = '#000';
    ctx.fillStyle = '#000';
    ctx.lineWidth = 1;
    ctx.beginPath();
    ctx.moveTo(tx, ty);
    ctx.lineTo(hx - N * c, hy - N * s);
    ctx.stroke();
    ctx.beginPath();
    ctx.moveTo(hx, hy);
    ctx.lineTo(hx - L * c - W * s, hy - L * s + W * c);
    ctx.lineTo(hx - N * c, hy - N * s);
    ctx.lineTo(hx - L * c + W * s, hy - L * s - W * c);
    ctx.closePath();
    ctx.fill();
    ctx.restore();
  },
  afterDraw(chart, args, o) {
    const {ctx, chartArea, scales: {x, y}} = chart;
    ctx.save();
    // inward tick marks
    ctx.strokeStyle = axisColor;
    ctx.lineWidth = 1;
    ctx.beginPath();
    xTicks.forEach(v => {
      const px = Math.round(x.getPixelForValue(v)) + 0.5;
      ctx.moveTo(px, chartArea.bottom);
      ctx.lineTo(px, chartArea.bottom - 3);
    });
    yTicks.forEach(v => {
      const py = Math.round(y.getPixelForValue(v)) + 0.5;
      ctx.moveTo(chartArea.left, py);
      ctx.lineTo(chartArea.left + 3, py);
    });
    ctx.stroke();
    // label of the arrow
    if (o.tail) {
      const tx = x.getPixelForValue(o.tail[0]), ty = y.getPixelForValue(o.tail[1]);
      const lines = ['\u0394 F0=' + o.head.x.toFixed(1) + ' semitones', '\u0394 ST=' + o.head.y.toFixed(1) + ' dB'];
      ctx.font = '13.5px "DejaVu Sans", sans-serif';
      ctx.fillStyle = '#000';
      ctx.textAlign = 'right';
      ctx.textBaseline = 'middle';
      const w = Math.max(...lines.map(t => ctx.measureText(t).width));
      const right = o.align === 'center' ? tx + w / 2 + 2 : tx - 1;
      ctx.fillText(lines[0], right, ty - 26);
      ctx.fillText(lines[1], right, ty - 9);
    }
    ctx.restore();
  }
};

function panel(id, title, out, core, core2, mean, note, cfg) {
  const pts = out.concat(core, core2).map(p => ({x: p[0], y: p[1]}));
  return new Chart(document.getElementById(id), {
    type: 'scatter',
    data: {
      datasets: [
        {data: [mean], pointRadius: 4.2, pointBorderWidth: 1.3, pointBorderColor: '#000', pointBackgroundColor: '#fff'},
        {data: pts, pointRadius: 4.1, pointBorderWidth: 1.25, pointBorderColor: blue, pointBackgroundColor: 'rgba(0,0,0,0)'}
      ]
    },
    options: {
      responsive: false,
      animation: false,
      events: [],
      devicePixelRatio: 1,
      layout: {padding: {left: 0, right: cfg.padRight, top: 0, bottom: 0}},
      plugins: {
        legend: {display: false},
        tooltip: {enabled: false},
        title: {display: true, fullSize: false, text: title, color: '#000', font: {size: 15, weight: 'bold', lineHeight: '16px'}, padding: {top: 4, bottom: 4}},
        note: {tail: note.tail, align: note.align, head: mean}
      },
      scales: {
        x: {
          type: 'linear', min: -10, max: 25,
          afterBuildTicks: s => { s.ticks = xTicks.map(v => ({value: v})); },
          afterFit: s => { s.height = cfg.xh; },
          grid: {color: gridColor, drawTicks: false},
          border: {display: true, color: axisColor, width: 1},
          ticks: {display: cfg.showX, padding: 7, color: axisColor, font: {size: 12}, callback: v => String(v)},
          title: {display: cfg.showX, text: '\u0394 F0 [semitones]', color: axisColor, font: {size: 16}, padding: {top: 0, bottom: 4}}
        },
        y: {
          type: 'linear', min: -10, max: 25,
          afterBuildTicks: s => { s.ticks = yTicks.map(v => ({value: v})); },
          afterFit: s => { s.width = cfg.yw; },
          grid: {color: gridColor, drawTicks: false},
          border: {display: true, color: axisColor, width: 1},
          ticks: {display: cfg.showY, padding: 7, color: axisColor, font: {size: 12}, callback: v => String(v)},
          title: {display: cfg.showY, text: '\u0394 ST [dB]', color: axisColor, font: {size: 16}, padding: {top: 6, bottom: 0}}
        }
      }
    },
    plugins: [notePlugin]
  });
}

panel('tl', 'NEU2AGR [a]', tlOut, tlCore, tlCore2, tlMean, notes.tl, {showX: false, showY: true, xh: 15, yw: 57, padRight: 9});
panel('tr', 'NEU2HAP [a]', trOut, trCore, trCore2, trMean, notes.tr, {showX: false, showY: false, xh: 15, yw: 42, padRight: 2});
panel('bl', "NEU2AGR ['a]", blOut, blCore, blCore2, blMean, notes.bl, {showX: true, showY: true, xh: 48, yw: 57, padRight: 9});
panel('br', "NEU2HAP ['a]", brOut, brCore, brCore2, brMean, notes.br, {showX: true, showY: false, xh: 48, yw: 42, padRight: 2});
</script>
</body>
</html>
